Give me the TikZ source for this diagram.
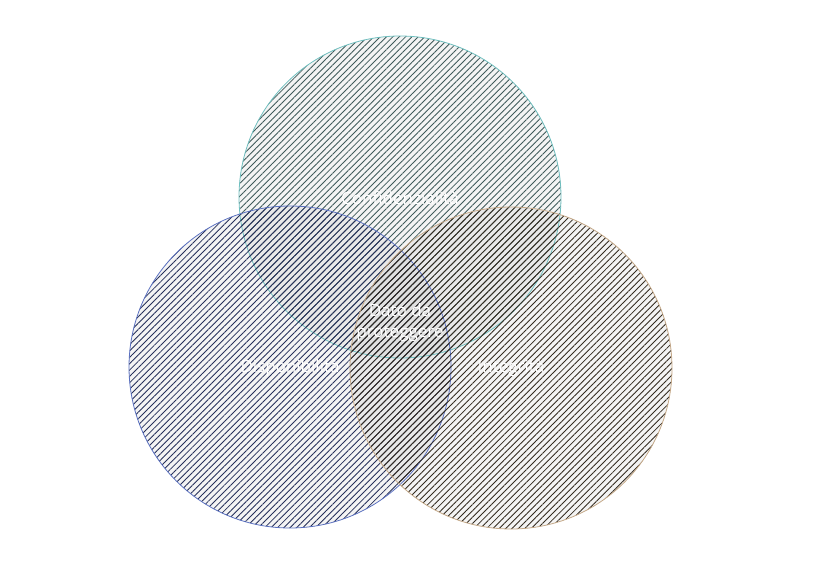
\documentclass[tikz,border=0pt]{standalone}
\usepackage{fontspec}
\setmainfont{Open Sans}
\usetikzlibrary{patterns.meta}
\definecolor{topedge}{HTML}{6FBFBF}
\definecolor{topfill}{HTML}{3F5A5A}
\definecolor{leftedge}{HTML}{5A70C0}
\definecolor{leftfill}{HTML}{26305A}
\definecolor{rightedge}{HTML}{C4A888}
\definecolor{rightfill}{HTML}{332B20}
\tikzset{
  venn/.style={circle, minimum size=322pt, inner sep=0pt, line width=0.8pt},
  shade/.style={circle, minimum size=322pt, inner sep=0pt, draw=none, fill=gray, fill opacity=0.09},
  hatch/.style={pattern={Lines[angle=45,distance=4.5pt,line width=0.85pt]}},
  lbl/.style={text=white, font=\fontsize{17}{21}\selectfont, align=center},
}
\begin{document}
\begin{tikzpicture}[x=1pt,y=-1pt]
\useasboundingbox (0,0) rectangle (827,576);
% soft grey layers so overlaps darken
\node[shade] (st) at (400,197) {};
\node[shade] (sl) at (290,367) {};
\node[shade] (sr) at (511,368) {};
% hatched circles
\node[venn, draw=topedge, hatch, pattern color=topfill] (top) at (400,197) {};
\node[venn, draw=leftedge, hatch, pattern color=leftfill] (left) at (290,367) {};
\node[venn, draw=rightedge, hatch, pattern color=rightfill] (right) at (511,368) {};
% labels
\node[lbl] (conf) at (400,198) {Confidenzialità};
\node[lbl] (disp) at (290,368) {Disponibilità};
\node[lbl] (integ) at (511,368) {Integrità};
\node[lbl] (dato) at (400,323) {Dato da\\proteggere};
\end{tikzpicture}
\end{document}
